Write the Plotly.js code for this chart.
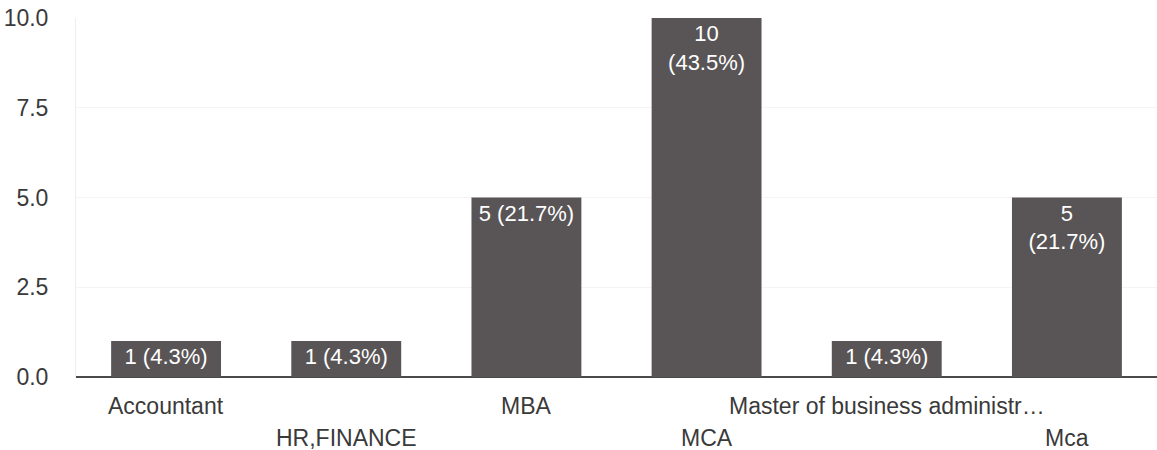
<!DOCTYPE html>
<html>
<head>
<meta charset="utf-8">
<script src="https://cdn.plot.ly/plotly-3.0.1.min.js"></script>
<style>html,body{margin:0;padding:0;background:#fff;}#chart{width:1157px;height:450px;}</style>
</head>
<body>
<div id="chart"></div>
<script>
const categories = ["Accountant", "HR,FINANCE", "MBA", "MCA", "Master of business administr…", "Mca"];
const counts = [1, 1, 5, 10, 1, 5];
const barLabels = ["1 (4.3%)", "1 (4.3%)", "5 (21.7%)", "10<br>(43.5%)", "1 (4.3%)", "5<br>(21.7%)"];
const labelRow = [0, 1, 0, 1, 0, 1];
const yTickVals = [0, 2.5, 5, 7.5, 10];
const yTickText = ["0.0", "2.5", "5.0", "7.5", "10.0"];

const FONT = "Liberation Sans, Arial, sans-serif";

const annotations = categories.map((c, i) => ({
  x: c, xref: "x", y: 0, yref: "paper",
  text: c, showarrow: false,
  yanchor: "middle", xanchor: "center",
  yshift: labelRow[i] === 0 ? -29 : -61,
  font: {family: FONT, size: 23, color: "#3a3a3a"}
}));

const trace = {
  type: "bar",
  x: categories,
  y: counts,
  text: barLabels,
  textposition: "inside",
  insidetextanchor: "end",
  constraintext: "none",
  textfont: {family: FONT, size: 22, color: "#ffffff"},
  marker: {color: "#595556"},
  hoverinfo: "none"
};

const layout = {
  width: 1157, height: 450,
  margin: {l: 76, r: 0, t: 18, b: 73},
  paper_bgcolor: "#ffffff", plot_bgcolor: "#ffffff",
  bargap: 0.39,
  showlegend: false,
  font: {family: FONT, size: 22, color: "#3a3a3a"},
  xaxis: {
    type: "category",
    showticklabels: false,
    showgrid: false,
    zeroline: false,
    showline: false,
    ticks: ""
  },
  yaxis: {
    range: [0, 10],
    tickvals: yTickVals,
    ticktext: yTickText,
    showgrid: true,
    gridcolor: "#f4f4f4",
    gridwidth: 1,
    zeroline: true,
    zerolinecolor: "#4a4a4a",
    zerolinewidth: 1.5,
    showline: true,
    linecolor: "#eeeeee",
    ticks: "",
    ticklabelstandoff: 22,
    tickfont: {family: FONT, size: 23, color: "#3a3a3a"}
  },
  annotations: annotations
};

Plotly.newPlot("chart", [trace], layout, {displayModeBar: false, staticPlot: true});
</script>
</body>
</html>
